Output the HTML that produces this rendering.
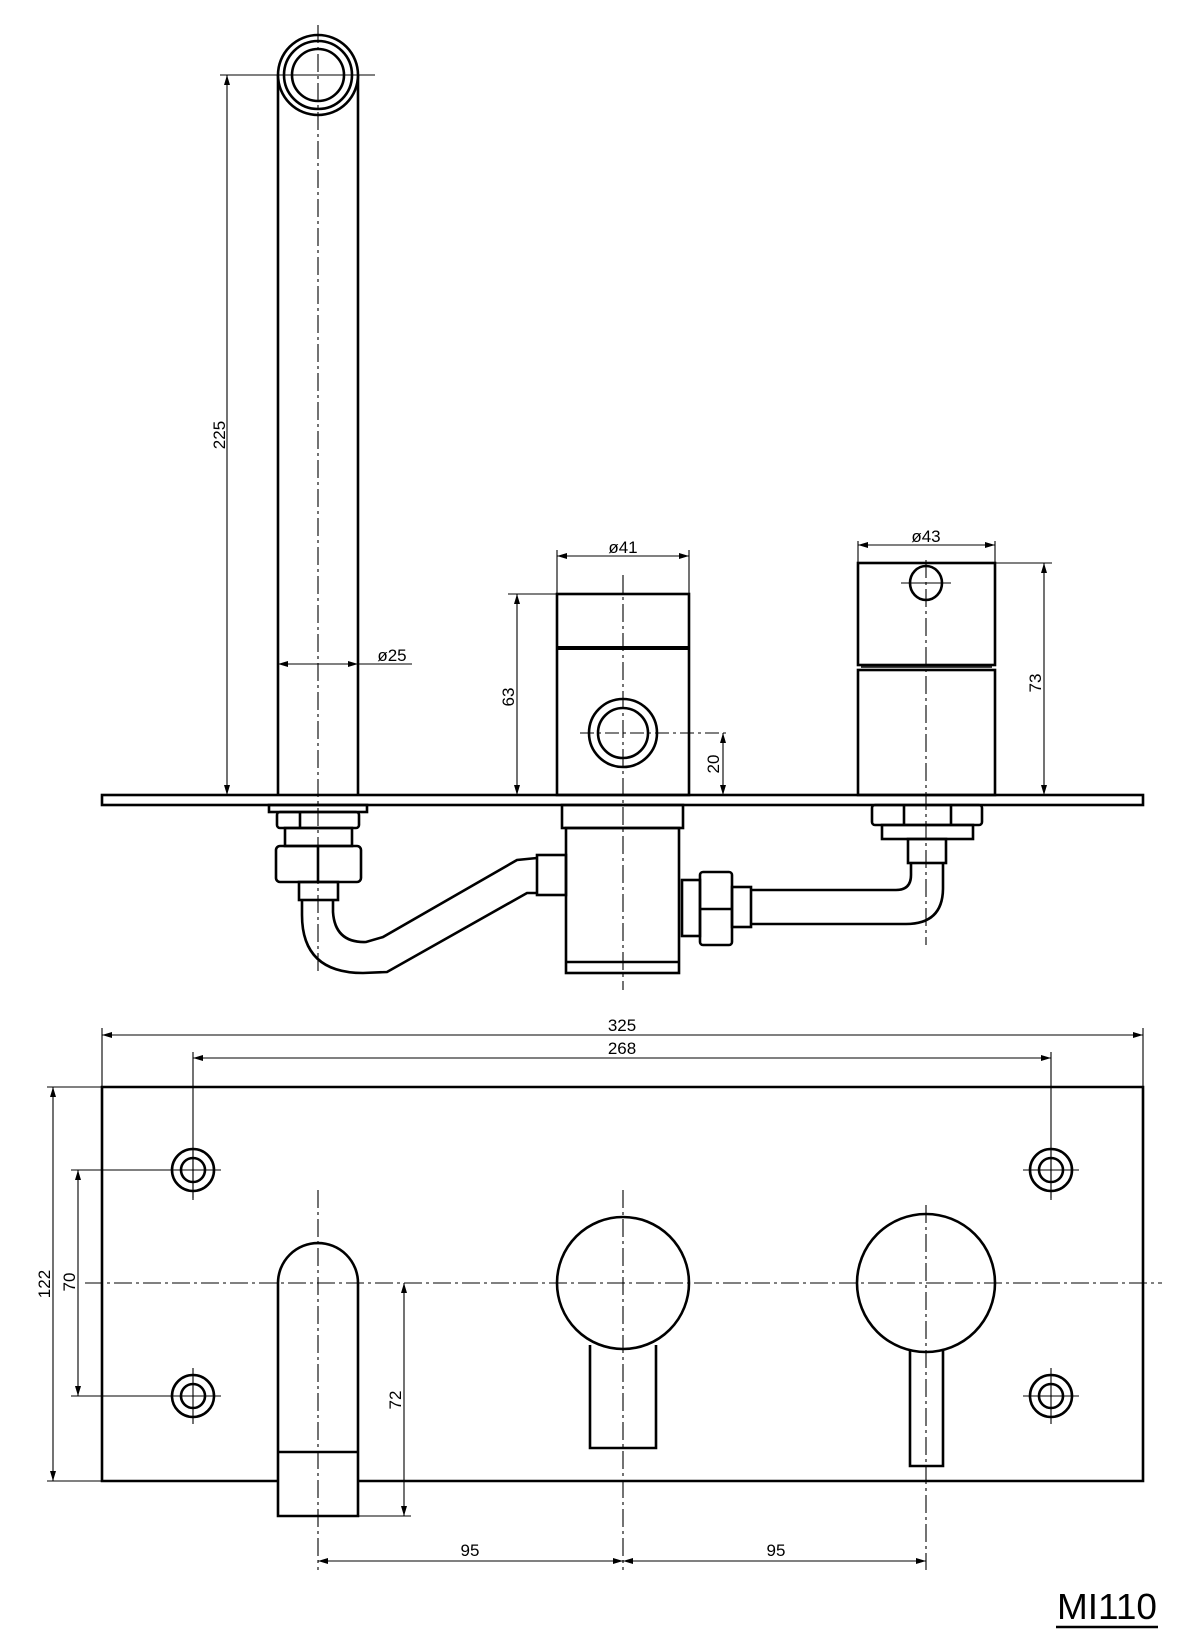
<!DOCTYPE html>
<html><head><meta charset="utf-8"><style>
html,body{margin:0;padding:0;background:#fff;}
svg{display:block;}
text{font-family:"Liberation Sans",sans-serif;fill:#000;}
.m{fill:none;stroke:#000;stroke-width:2.6;}
.d{fill:none;stroke:#000;stroke-width:1.1;}
.c{fill:none;stroke:#000;stroke-width:1.1;stroke-dasharray:18 4 3 4;}
.t{font-size:17px;}
</style></head><body>
<svg width="1200" height="1648" viewBox="0 0 1200 1648" xmlns="http://www.w3.org/2000/svg">
<defs>
<marker id="a" viewBox="0 0 10 6" refX="10" refY="3" markerWidth="10" markerHeight="6" orient="auto-start-reverse" markerUnits="userSpaceOnUse"><path d="M0,0 L10,3 L0,6 z" fill="#000"/></marker>
</defs>

<!-- ===== TOP VIEW ===== -->
<!-- plate -->
<rect class="m" x="102" y="795" width="1041" height="10"/>

<!-- spout -->
<line class="m" x1="278" y1="75" x2="278" y2="795"/>
<line class="m" x1="358" y1="75" x2="358" y2="795"/>
<circle cx="318" cy="75" r="40" fill="#fff" stroke="#000" stroke-width="2.6"/>
<circle class="m" cx="318" cy="75" r="34" stroke-width="3.2"/>
<circle class="m" cx="318" cy="75" r="26"/>
<line class="c" x1="318" y1="25" x2="318" y2="975"/>
<!-- 225 -->
<line class="d" x1="220" y1="75" x2="375" y2="75"/>
<line class="d" x1="227" y1="75" x2="227" y2="795" marker-start="url(#a)" marker-end="url(#a)"/>
<text class="t" transform="translate(225,435) rotate(-90)" text-anchor="middle">225</text>
<!-- ø25 -->
<line class="d" x1="278" y1="664" x2="412" y2="664"/>
<path d="M288,661 L278,664 L288,667z M348,661 L358,664 L348,667z" fill="#000"/>
<text class="t" x="392" y="661" text-anchor="middle">ø25</text>

<!-- spout fittings -->
<rect class="m" x="269" y="805" width="98" height="7"/>
<rect class="m" x="277" y="812" width="82" height="16" rx="3"/>
<line class="m" x1="300" y1="812" x2="300" y2="828"/>
<rect class="m" x="285" y="828" width="67" height="18"/>
<rect class="m" x="276" y="846" width="85" height="36" rx="4"/>
<line class="m" x1="318" y1="846" x2="318" y2="882"/>
<rect class="m" x="299" y="882" width="39" height="18"/>
<!-- pipe left -->
<path class="m" d="M302,900 L302,915 Q302,973 363,973 L387,972 L527,893 L537,893"/>
<path class="m" d="M333,900 L333,912 Q335,943 366,942 L383,937 L517,860 L537,858"/>
<rect class="m" x="537" y="855" width="29" height="40"/>

<!-- middle valve above plate -->
<rect class="m" x="557" y="594" width="132" height="201"/>
<line x1="557" y1="648" x2="689" y2="648" stroke="#000" stroke-width="4"/>
<circle class="m" cx="623" cy="733" r="34"/>
<circle class="m" cx="623" cy="733" r="25"/>
<line class="c" x1="623" y1="575" x2="623" y2="990"/>
<line class="d" x1="580" y1="733" x2="730" y2="733" stroke-dasharray="14 4 3 4"/>
<!-- ø41 -->
<line class="d" x1="557" y1="550" x2="557" y2="594"/>
<line class="d" x1="689" y1="550" x2="689" y2="594"/>
<line class="d" x1="557" y1="556" x2="689" y2="556" marker-start="url(#a)" marker-end="url(#a)"/>
<text class="t" x="623" y="553" text-anchor="middle">ø41</text>
<!-- 63 -->
<line class="d" x1="508" y1="594" x2="557" y2="594"/>
<line class="d" x1="517" y1="594" x2="517" y2="795" marker-start="url(#a)" marker-end="url(#a)"/>
<text class="t" transform="translate(514,697) rotate(-90)" text-anchor="middle">63</text>
<!-- 20 -->
<line class="d" x1="723" y1="733" x2="723" y2="795" marker-start="url(#a)" marker-end="url(#a)"/>
<text class="t" transform="translate(719,764) rotate(-90)" text-anchor="middle">20</text>

<!-- middle valve below plate -->
<rect class="m" x="562" y="805" width="121" height="23"/>
<rect class="m" x="566" y="828" width="113" height="145"/>
<line class="m" x1="566" y1="962" x2="679" y2="962"/>
<!-- right connector -->
<rect class="m" x="682" y="880" width="18" height="56"/>
<rect class="m" x="700" y="872" width="32" height="73" rx="3"/>
<line class="m" x1="700" y1="909" x2="732" y2="909"/>
<rect class="m" x="732" y="887" width="19" height="40"/>
<!-- pipe right -->
<path class="m" d="M751,890 L896,890 Q911,890 911,875 L911,863"/>
<path class="m" d="M751,924 L906,924 Q943,924 943,888 L943,863"/>
<rect class="m" x="908" y="839" width="38" height="24"/>
<rect class="m" x="882" y="825" width="91" height="14"/>
<rect class="m" x="872" y="805" width="110" height="20" rx="3"/>
<line class="m" x1="904" y1="805" x2="904" y2="825"/>
<line class="m" x1="951" y1="805" x2="951" y2="825"/>

<!-- right valve above plate -->
<rect class="m" x="858" y="563" width="137" height="102"/>
<rect class="m" x="858" y="670" width="137" height="125"/>
<line x1="861" y1="667" x2="992" y2="667" stroke="#000" stroke-width="1.5"/>
<ellipse class="m" cx="926" cy="583" rx="16" ry="17"/>
<line class="d" x1="901" y1="583" x2="951" y2="583"/>
<line class="c" x1="926" y1="560" x2="926" y2="945"/>
<!-- ø43 -->
<line class="d" x1="858" y1="541" x2="858" y2="563"/>
<line class="d" x1="995" y1="541" x2="995" y2="563"/>
<line class="d" x1="858" y1="545" x2="995" y2="545" marker-start="url(#a)" marker-end="url(#a)"/>
<text class="t" x="926" y="542" text-anchor="middle">ø43</text>
<!-- 73 -->
<line class="d" x1="995" y1="563" x2="1052" y2="563"/>
<line class="d" x1="1044" y1="563" x2="1044" y2="795" marker-start="url(#a)" marker-end="url(#a)"/>
<text class="t" transform="translate(1041,683) rotate(-90)" text-anchor="middle">73</text>

<!-- ===== FRONT VIEW ===== -->
<!-- 325 -->
<line class="d" x1="102" y1="1028" x2="102" y2="1087"/>
<line class="d" x1="1143" y1="1028" x2="1143" y2="1087"/>
<line class="d" x1="102" y1="1035" x2="1143" y2="1035" marker-start="url(#a)" marker-end="url(#a)"/>
<text class="t" x="622" y="1031" text-anchor="middle">325</text>
<!-- 268 -->
<line class="d" x1="193" y1="1052" x2="193" y2="1200"/>
<line class="d" x1="1051" y1="1052" x2="1051" y2="1200"/>
<line class="d" x1="193" y1="1058" x2="1051" y2="1058" marker-start="url(#a)" marker-end="url(#a)"/>
<text class="t" x="622" y="1054" text-anchor="middle">268</text>

<!-- plate -->
<path class="m" d="M278,1481 L102,1481 L102,1087 L1143,1087 L1143,1481 L358,1481"/>
<!-- 122 -->
<line class="d" x1="47" y1="1087" x2="102" y2="1087"/>
<line class="d" x1="47" y1="1481" x2="102" y2="1481"/>
<line class="d" x1="53" y1="1087" x2="53" y2="1481" marker-start="url(#a)" marker-end="url(#a)"/>
<text class="t" transform="translate(50,1284) rotate(-90)" text-anchor="middle">122</text>
<!-- 70 -->
<line class="d" x1="71" y1="1170" x2="210" y2="1170"/>
<line class="d" x1="71" y1="1396" x2="210" y2="1396"/>
<line class="d" x1="78" y1="1170" x2="78" y2="1396" marker-start="url(#a)" marker-end="url(#a)"/>
<text class="t" transform="translate(75,1282) rotate(-90)" text-anchor="middle">70</text>

<!-- holes -->
<g>
<circle class="m" cx="193" cy="1170" r="21"/><circle class="m" cx="193" cy="1170" r="12"/>
<line class="d" x1="165" y1="1170" x2="221" y2="1170"/><line class="d" x1="193" y1="1150" x2="193" y2="1198"/>
<circle class="m" cx="193" cy="1396" r="21"/><circle class="m" cx="193" cy="1396" r="12"/>
<line class="d" x1="165" y1="1396" x2="221" y2="1396"/><line class="d" x1="193" y1="1368" x2="193" y2="1424"/>
<circle class="m" cx="1051" cy="1170" r="21"/><circle class="m" cx="1051" cy="1170" r="12"/>
<line class="d" x1="1023" y1="1170" x2="1079" y2="1170"/><line class="d" x1="1051" y1="1150" x2="1051" y2="1198"/>
<circle class="m" cx="1051" cy="1396" r="21"/><circle class="m" cx="1051" cy="1396" r="12"/>
<line class="d" x1="1023" y1="1396" x2="1079" y2="1396"/><line class="d" x1="1051" y1="1368" x2="1051" y2="1424"/>
</g>

<!-- horizontal centerline -->
<line class="c" x1="85" y1="1283" x2="1162" y2="1283"/>

<!-- spout front -->
<path class="m" d="M278,1516 L278,1283 A40,40 0 0 1 358,1283 L358,1516 Z"/>
<line class="m" x1="278" y1="1452" x2="358" y2="1452"/>
<line class="c" x1="318" y1="1190" x2="318" y2="1570"/>
<!-- 72 -->
<line class="d" x1="358" y1="1516" x2="411" y2="1516"/>
<line class="d" x1="404" y1="1283" x2="404" y2="1516" marker-start="url(#a)" marker-end="url(#a)"/>
<text class="t" transform="translate(401,1400) rotate(-90)" text-anchor="middle">72</text>

<!-- middle knob -->
<path class="m" d="M590,1345 L590,1448 L656,1448 L656,1345"/>
<circle class="m" cx="623" cy="1283" r="66" fill="#fff"/>
<line class="c" x1="623" y1="1190" x2="623" y2="1570"/>
<!-- right knob -->
<path class="m" d="M910,1350 L910,1466 L943,1466 L943,1350"/>
<circle class="m" cx="926" cy="1283" r="69" fill="#fff"/>
<line class="c" x1="926" y1="1205" x2="926" y2="1570"/>
<line class="c" x1="85" y1="1283" x2="1162" y2="1283"/>

<!-- 95 dims -->
<line class="d" x1="318" y1="1561" x2="623" y2="1561" marker-start="url(#a)" marker-end="url(#a)"/>
<line class="d" x1="623" y1="1561" x2="926" y2="1561" marker-start="url(#a)" marker-end="url(#a)"/>
<text class="t" x="470" y="1556" text-anchor="middle">95</text>
<text class="t" x="776" y="1556" text-anchor="middle">95</text>

<!-- title -->
<text x="1057" y="1619" style="font-size:36px;" textLength="100" lengthAdjust="spacingAndGlyphs">MI110</text>
<line x1="1056" y1="1627" x2="1158" y2="1627" stroke="#000" stroke-width="2.5"/>
</svg>
</body></html>
